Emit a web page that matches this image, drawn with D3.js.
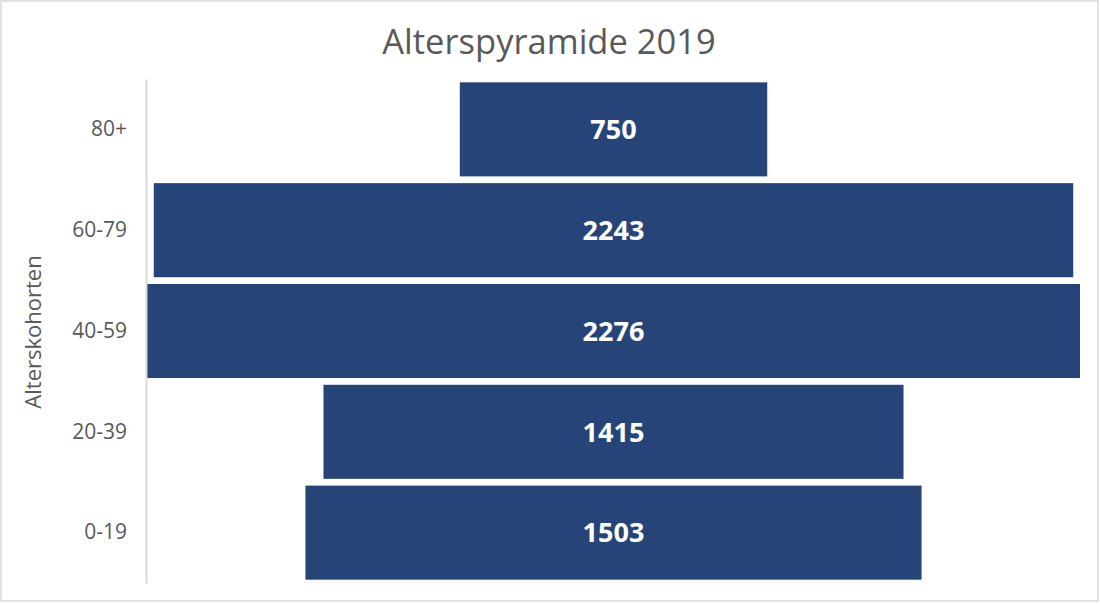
<!DOCTYPE html>
<html><head><meta charset="utf-8">
<script src="https://cdn.jsdelivr.net/npm/d3@7"></script>
<style>html,body{margin:0;padding:0;background:#fff;}</style>
</head><body>
<svg id="c" width="1100" height="604"></svg>
<script>
const categories = ["80+", "60-79", "40-59", "20-39", "0-19"];
const values = [750, 2243, 2276, 1415, 1503];
const title = "Alterspyramide 2019";
const yTitle = "Alterskohorten";

const svg = d3.select("#c");
const font = "'Open Sans', 'Liberation Sans', sans-serif";
svg.append("rect").attr("x",1).attr("y",1).attr("width",1097).attr("height",600)
  .attr("fill","#fff").attr("stroke","#d9d9d9").attr("stroke-width",1.5);

const maxV = d3.max(values);
const x = d3.scaleLinear().domain([-maxV/2, maxV/2]).range([147, 1080]);
const y = d3.scaleBand().domain(categories).range([79, 583]).paddingInner(0.067).paddingOuter(0.033);

svg.append("text").attr("x", 549).attr("y", 54).attr("text-anchor","middle")
  .attr("font-family", font).attr("font-size", 34.5).attr("fill","#595959").text(title);

svg.selectAll("rect.bar").data(categories).enter().append("rect").attr("class","bar")
  .attr("x", (d,i)=>x(-values[i]/2)).attr("y", d=>y(d))
  .attr("width", (d,i)=>x(values[i]/2)-x(-values[i]/2)).attr("height", y.bandwidth())
  .attr("fill","#264478");

svg.selectAll("text.val").data(categories).enter().append("text").attr("class","val")
  .attr("x", x(0)).attr("y", d=>y(d)+y.bandwidth()/2).attr("dy","0.36em")
  .attr("text-anchor","middle").attr("font-family",font).attr("font-weight","bold")
  .attr("font-size",27).attr("fill","#fff").text((d,i)=>values[i]);

const axis = d3.axisLeft(y).tickSize(0).tickPadding(19);
const g = svg.append("g").attr("transform","translate(146,0)").call(axis);
g.select(".domain").attr("stroke","#d9d9d9").attr("stroke-width",2);
g.selectAll("text").attr("font-family",font).attr("font-size",21).attr("fill","#595959");

svg.append("text").attr("transform","translate(41,332) rotate(-90)").attr("text-anchor","middle")
  .attr("font-family",font).attr("font-size",22).attr("fill","#595959").text(yTitle);
</script>
</body></html>
